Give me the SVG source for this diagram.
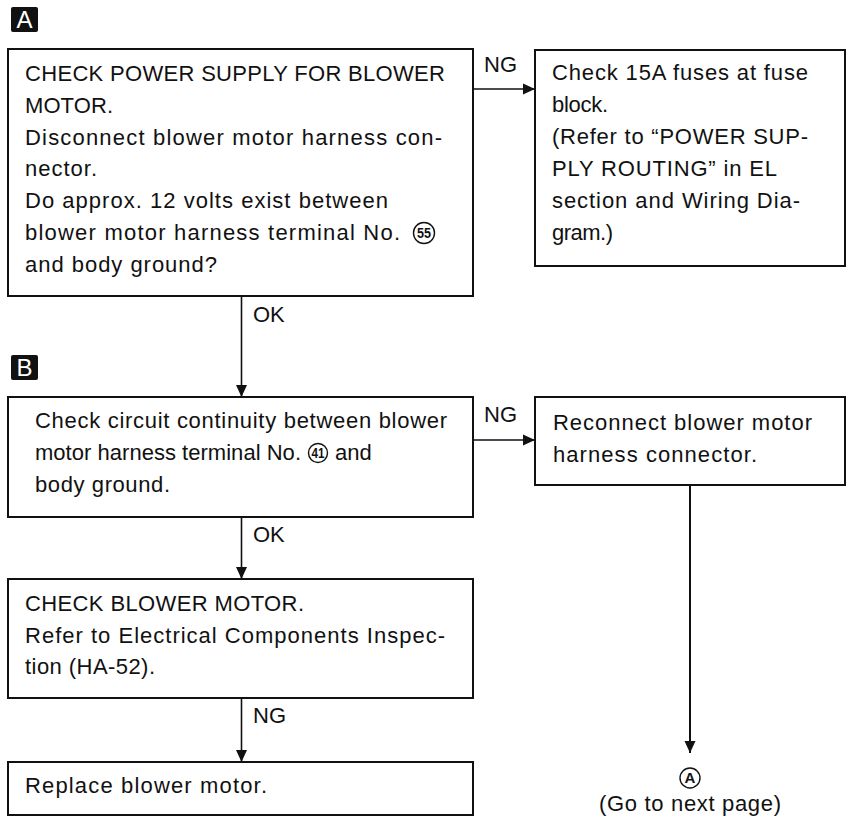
<svg xmlns="http://www.w3.org/2000/svg" width="853" height="816" viewBox="0 0 853 816">
<defs>
<style>
.box{fill:#fff;stroke:#111;stroke-width:2}
.t{font-family:"Liberation Sans",Arial,sans-serif;font-size:22px;fill:#111}
.lbl{font-family:"Liberation Sans",Arial,sans-serif;font-size:22px;fill:#111}
.mk{fill:#111}
.mkt{font-family:"Liberation Sans",Arial,sans-serif;font-size:24px;fill:#fff;text-anchor:middle}
.cn{fill:none;stroke:#111;stroke-width:1.6}
.cnum{fill:#fff;stroke:#111;stroke-width:1.4}
.cnt{font-family:"Liberation Sans",Arial,sans-serif;font-size:14px;font-weight:bold;fill:#111;text-anchor:middle}
</style>
<marker id="ah" viewBox="0 0 12 12" refX="12" refY="6" markerWidth="12" markerHeight="12" markerUnits="userSpaceOnUse" orient="auto">
<path d="M0,0.5 L12,6 L0,11.5 Z" fill="#111"/>
</marker>
</defs>
<rect width="853" height="816" fill="#fff"/>

<g id="marker-A">
<rect class="mk" x="11" y="7" width="27" height="25" rx="2"/>
<text class="mkt" x="24.5" y="28">A</text>
</g>
<g id="marker-B">
<rect class="mk" x="11" y="355" width="27" height="25" rx="2"/>
<text class="mkt" x="24.5" y="376">B</text>
</g>

<g id="connectors">
<line class="cn" x1="473" y1="89" x2="535" y2="89" marker-end="url(#ah)"/>
<line class="cn" x1="241.5" y1="296" x2="241.5" y2="397" marker-end="url(#ah)"/>
<line class="cn" x1="473" y1="440" x2="535" y2="440" marker-end="url(#ah)"/>
<line class="cn" x1="241.5" y1="517" x2="241.5" y2="579" marker-end="url(#ah)"/>
<line class="cn" x1="241.5" y1="698" x2="241.5" y2="762" marker-end="url(#ah)"/>
<line class="cn" x1="690" y1="485" x2="690" y2="753" marker-end="url(#ah)" style="stroke-width:2"/>
<text class="lbl" x="484" y="72">NG</text>
<text class="lbl" x="253" y="322">OK</text>
<text class="lbl" x="484" y="422">NG</text>
<text class="lbl" x="253" y="542">OK</text>
<text class="lbl" x="253" y="723">NG</text>
</g>

<g id="node-check-power">
<rect class="box" x="8" y="49" width="465" height="247"/>
<text class="t" x="25" y="81" textLength="420" lengthAdjust="spacing">CHECK POWER SUPPLY FOR BLOWER</text>
<text class="t" x="25" y="113" textLength="88" lengthAdjust="spacing">MOTOR.</text>
<text class="t" x="25" y="145" textLength="417" lengthAdjust="spacing">Disconnect blower motor harness con-</text>
<text class="t" x="25" y="176" textLength="72" lengthAdjust="spacing">nector.</text>
<text class="t" x="25" y="208" textLength="363" lengthAdjust="spacing">Do approx. 12 volts exist between</text>
<text class="t" x="25" y="240" textLength="375" lengthAdjust="spacing">blower motor harness terminal No.</text>
<circle class="cnum" cx="424" cy="233" r="10.5"/>
<text class="cnt" x="424" y="238" textLength="14" lengthAdjust="spacingAndGlyphs">55</text>
<text class="t" x="25" y="272" textLength="192" lengthAdjust="spacing">and body ground?</text>
</g>

<g id="node-check-fuses">
<rect class="box" x="535" y="50" width="310" height="216"/>
<text class="t" x="552" y="80" textLength="256" lengthAdjust="spacing">Check 15A fuses at fuse</text>
<text class="t" x="552" y="112" textLength="56" lengthAdjust="spacing">block.</text>
<text class="t" x="552" y="144" textLength="256" lengthAdjust="spacing">(Refer to “POWER SUP-</text>
<text class="t" x="552" y="176" textLength="225" lengthAdjust="spacing">PLY ROUTING” in EL</text>
<text class="t" x="552" y="208" textLength="248" lengthAdjust="spacing">section and Wiring Dia-</text>
<text class="t" x="552" y="240" textLength="61" lengthAdjust="spacing">gram.)</text>
</g>

<g id="node-check-continuity">
<rect class="box" x="8" y="397" width="465" height="120"/>
<text class="t" x="35" y="428" textLength="412" lengthAdjust="spacing">Check circuit continuity between blower</text>
<text class="t" x="35" y="460" textLength="266" lengthAdjust="spacing">motor harness terminal No.</text>
<circle class="cnum" cx="318" cy="453" r="9.5"/>
<text class="cnt" x="318" y="458" textLength="13" lengthAdjust="spacingAndGlyphs">41</text>
<text class="t" x="335" y="460">and</text>
<text class="t" x="35" y="492" textLength="135" lengthAdjust="spacing">body ground.</text>
</g>

<g id="node-reconnect">
<rect class="box" x="535" y="397" width="310" height="88"/>
<text class="t" x="553" y="430" textLength="259" lengthAdjust="spacing">Reconnect blower motor</text>
<text class="t" x="553" y="462" textLength="204" lengthAdjust="spacing">harness connector.</text>
</g>

<g id="node-check-motor">
<rect class="box" x="8" y="579" width="465" height="119"/>
<text class="t" x="25" y="611" textLength="279" lengthAdjust="spacing">CHECK BLOWER MOTOR.</text>
<text class="t" x="25" y="643" textLength="420" lengthAdjust="spacing">Refer to Electrical Components Inspec-</text>
<text class="t" x="25" y="674" textLength="130" lengthAdjust="spacing">tion (HA-52).</text>
</g>

<g id="node-replace">
<rect class="box" x="8" y="762" width="465" height="53"/>
<text class="t" x="25" y="793" textLength="242" lengthAdjust="spacing">Replace blower motor.</text>
</g>

<g id="node-goto-A">
<circle class="cnum" cx="690" cy="778" r="10"/>
<text class="cnt" x="690" y="783" style="font-size:15px">A</text>
<text class="t" x="690" y="811" text-anchor="middle" textLength="182" lengthAdjust="spacing">(Go to next page)</text>
</g>
</svg>
